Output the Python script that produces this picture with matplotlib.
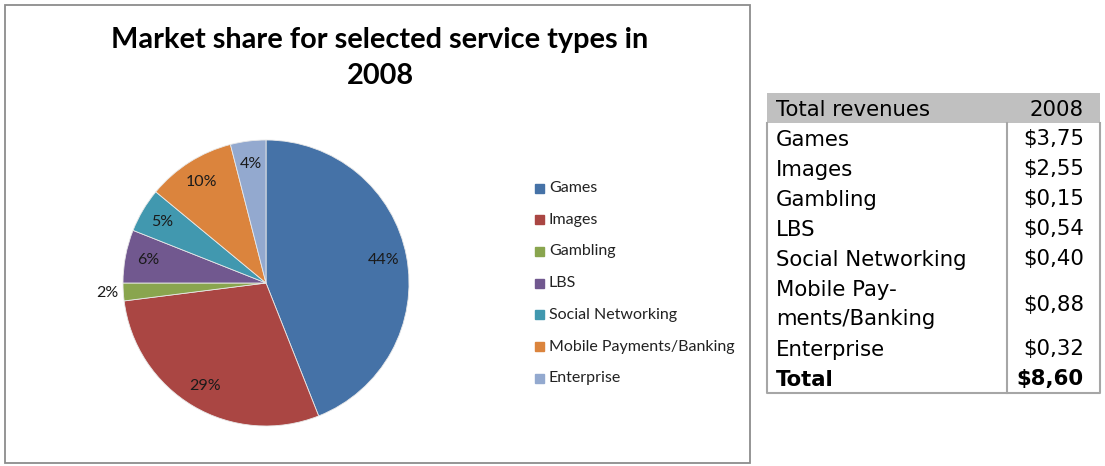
import matplotlib
matplotlib.use("Agg")
import matplotlib.pyplot as plt
from matplotlib.patches import Rectangle
import numpy as np

W, H = 1105, 466

# pie data (percent of 2008 revenue) and table values
services = ["Games", "Images", "Gambling", "LBS", "Social Networking",
            "Mobile Payments/Banking", "Enterprise"]
shares = [44, 29, 2, 6, 5, 10, 4]
colors = ["#4572A7", "#AA4643", "#89A54E", "#71588F", "#4198AF",
          "#DB843D", "#93A9CF"]

table_labels = ["Games", "Images", "Gambling", "LBS", "Social Networking",
                "Mobile Pay-\nments/Banking", "Enterprise"]
table_values = ["$3,75", "$2,55", "$0,15", "$0,54", "$0,40", "$0,88", "$0,32"]
total_value = "$8,60"

chart_font = "Lato"
table_font = "DejaVu Sans"
tfs = 15.3

fig = plt.figure(figsize=(W / 100, H / 100), dpi=100)

# overlay axes in pixel coordinates for the frame, title, legend and table
ov = fig.add_axes([0, 0, 1, 1])
ov.set_xlim(0, W)
ov.set_ylim(H, 0)
ov.axis("off")

ov.add_patch(Rectangle((5, 5), 745, 458, fill=False, edgecolor="#8c8c8c", lw=1.3))

ov.text(380, 40, "Market share for selected service types in", ha="center",
        va="center", fontsize=20.8, fontweight="bold", family=chart_font)
ov.text(380, 76, "2008", ha="center", va="center", fontsize=20.8,
        fontweight="bold", family=chart_font)

# pie
cx, cy, r = 266, 283, 143
ax = fig.add_axes([(cx - r) / W, (H - cy - r) / H, 2 * r / W, 2 * r / H])
wedges, _ = ax.pie(shares, colors=colors, startangle=90, counterclock=False,
                   radius=1, wedgeprops=dict(edgecolor="#e8e8e8", linewidth=0.6))
ax.set_xlim(-1, 1)
ax.set_ylim(-1, 1)

for w, pct in zip(wedges, shares):
    ang = np.deg2rad((w.theta1 + w.theta2) / 2)
    d = 1.11 if pct < 3 else 0.84
    ax.text(d * np.cos(ang), d * np.sin(ang), f"{pct}%", ha="center",
            va="center", fontsize=11.5, family=chart_font, color="#1a1a1a",
            clip_on=False)

# legend
for i, (name, col) in enumerate(zip(services, colors)):
    y = 188 + i * 31.7
    ov.add_patch(Rectangle((535, y - 4.5), 9, 9, color=col))
    ov.text(549, y, name, ha="left", va="center", fontsize=11.5,
            family=chart_font, color="#222222")

# revenue table
left, right, split = 767, 1100, 1007
border = "#a6a6a6"
top = 93
dy = 1.5
ov.add_patch(Rectangle((left, top), right - left, 30, color="#c0c0c0", lw=0))
ov.text(776, top + 15 + dy, "Total revenues", ha="left", va="center",
        fontsize=tfs, family=table_font)
ov.text(1084, top + 15 + dy, "2008", ha="right", va="center", fontsize=tfs,
        family=table_font)

y = top + 30
for lab, val in zip(table_labels, table_values):
    h = 60 if "\n" in lab else 30
    ov.text(776, y + h / 2 + dy, lab, ha="left", va="center", fontsize=tfs,
            family=table_font, linespacing=1.6)
    ov.text(1084, y + h / 2 + dy, val, ha="right", va="center", fontsize=tfs,
            family=table_font)
    y += h
ov.text(776, y + 15 + dy, "Total", ha="left", va="center", fontsize=tfs,
        fontweight="bold", family=table_font)
ov.text(1084, y + 15 + dy, total_value, ha="right", va="center", fontsize=tfs,
        fontweight="bold", family=table_font)
bottom = y + 30

ov.plot([left, left, right, right], [top + 30, bottom, bottom, top + 30],
        color=border, lw=1.5)
ov.plot([split, split], [top + 30, bottom], color=border, lw=1.5)

fig.savefig("out.png", dpi=100)
